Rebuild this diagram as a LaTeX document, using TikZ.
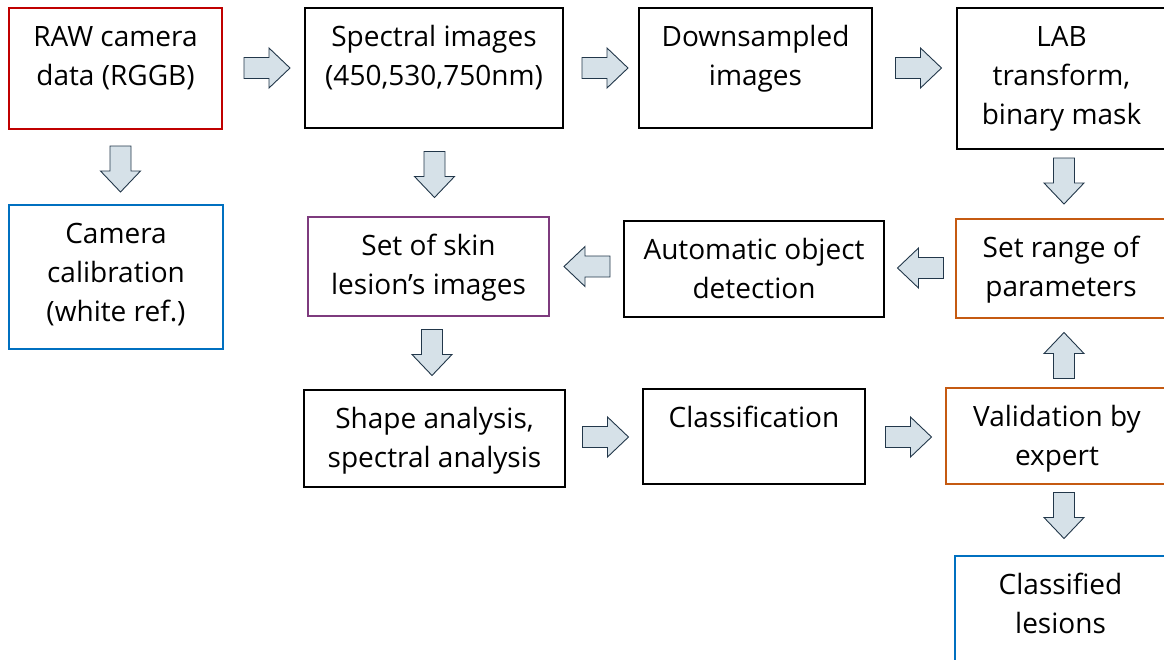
\documentclass[tikz,border=0pt]{standalone}
\usepackage{fontspec}
\setmainfont{Open Sans}

\definecolor{boxred}{HTML}{C00000}
\definecolor{boxblue}{HTML}{0070C0}
\definecolor{boxpurple}{HTML}{7E3B7E}
\definecolor{boxorange}{HTML}{C55A11}
\definecolor{arrowfill}{HTML}{D6E1E8}
\definecolor{arrowline}{HTML}{22374A}

\newcommand{\boxfont}{\fontsize{28}{39}\selectfont}
% text set at the top of a fixed-size box
\newcommand{\topbox}[3]{\parbox[c][#2pt][t]{#1pt}{\centering\vspace*{10.7pt}\strut #3\par}}

\tikzset{
  x=1pt, y=-1pt,
  flowbox/.style={draw=#1, line width=1.5pt, inner sep=0pt, outer sep=0pt,
    anchor=north west, font=\boxfont, text=black},
  flowbox/.default=black,
  markbox/.style={flowbox=#1, line width=2pt},
  blockarrow/.pic={
    \draw[fill=arrowfill, draw=arrowline, line width=0.9pt, line join=miter]
      (-23,-10.5) -- (2,-10.5) -- (2,-20) -- (23,0) -- (2,20) -- (2,10.5)
      -- (-23,10.5) -- cycle;
  },
}

\begin{document}
\begin{tikzpicture}
\useasboundingbox (0,0) rectangle (1164,659);

% process boxes
\node[markbox=boxred]   (raw)   at (9,8)     {\topbox{213}{121}{RAW camera\\data (RGGB)}};
\node[flowbox]          (spec)  at (305,8)   {\topbox{258}{120}{Spectral images\\(450,530,750nm)}};
\node[flowbox]          (down)  at (639,8)   {\topbox{233}{120}{Downsampled\\images}};
\node[flowbox]          (lab)   at (957,8)   {\topbox{209}{141}{LAB\\transform,\\binary mask}};
\node[markbox=boxblue]  (cal)   at (9,205)   {\topbox{214}{144}{Camera\\calibration\\(white ref.)}};
\node[markbox=boxpurple](skin)  at (308,217) {\topbox{241}{99}{Set of skin\\lesion’s images}};
\node[flowbox]          (auto)  at (624,221) {\topbox{260}{96}{Automatic object\\detection}};
\node[markbox=boxorange](range) at (956,219) {\topbox{210}{99}{Set range of\\parameters}};
\node[flowbox]          (shape) at (304,390) {\topbox{261}{97}{Shape analysis,\\spectral analysis}};
\node[flowbox]          (class) at (643,389) {\topbox{222}{95}{Classification}};
\node[markbox=boxorange](valid) at (946,388) {\topbox{222}{96}{Validation by\\expert}};
\node[markbox=boxblue]  (done)  at (955,556) {\topbox{211}{124}{Classified\\lesions}};

% block arrows between the boxes
\pic at (267,68) {blockarrow};
\pic at (605,68) {blockarrow};
\pic at (918.5,68) {blockarrow};
\pic[rotate=-90] at (120.5,169) {blockarrow};
\pic[rotate=-90] at (434.5,174.5) {blockarrow};
\pic[rotate=-90] at (1064,181) {blockarrow};
\pic[rotate=180] at (920.5,268) {blockarrow};
\pic[rotate=180] at (587,266.5) {blockarrow};
\pic[rotate=-90] at (432,352.5) {blockarrow};
\pic[rotate=90] at (1064,355.5) {blockarrow};
\pic at (605.5,437) {blockarrow};
\pic at (908.5,437) {blockarrow};
\pic[rotate=-90] at (1064,515.5) {blockarrow};
\end{tikzpicture}
\end{document}
